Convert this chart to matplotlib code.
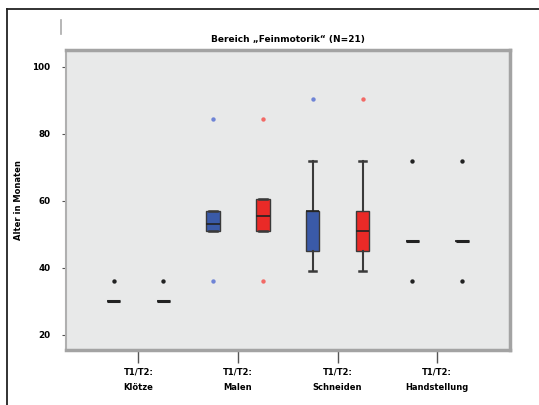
import matplotlib.pyplot as plt
from matplotlib.lines import Line2D

# Werte (Alter in Monaten)
categories = ["T1/T2:\nKlötze", "T1/T2:\nMalen", "T1/T2:\nSchneiden", "T1/T2:\nHandstellung"]

t1_q1 = [30, 51, 45, 48]
t1_med = [30, 53, 57, 48]
t1_q3 = [30, 57, 57, 48]
t1_lo = [30, 51, 39, 48]
t1_hi = [30, 57, 72, 48]
t1_fliers = [[36], [36, 84.5], [90.5], [36, 72]]

t2_q1 = [30, 51, 45, 48]
t2_med = [30, 55.5, 51, 48]
t2_q3 = [30, 60.5, 57, 48]
t2_lo = [30, 51, 39, 48]
t2_hi = [30, 60.5, 72, 48]
t2_fliers = [[36], [36, 84.5], [90.5], [36, 72]]

yticks = [20, 40, 60, 80, 100]

blue = "#3a5aa8"
red = "#ea2a27"
flier_cols_1 = ["#222222", "#6f84d6", "#6f84d6", "#222222"]
flier_cols_2 = ["#222222", "#f26a66", "#f26a66", "#222222"]


def make_stats(q1, med, q3, lo, hi):
    out = []
    for i in range(len(q1)):
        out.append(dict(q1=q1[i], med=med[i], q3=q3[i],
                        whislo=lo[i], whishi=hi[i], fliers=[]))
    return out


fig = plt.figure(figsize=(5.39, 4.05), dpi=100)
ax = fig.add_axes([0.122, 0.136, 0.824, 0.740])
ax.set_facecolor("#e8e9e9")

pos = [1, 2, 3, 4]
off = 0.25
stats1 = make_stats(t1_q1, t1_med, t1_q3, t1_lo, t1_hi)
stats2 = make_stats(t2_q1, t2_med, t2_q3, t2_lo, t2_hi)

for stats, shift, col in [(stats1, -off, blue), (stats2, off, red)]:
    ax.bxp(stats, positions=[p + shift for p in pos], widths=0.135,
           capwidths=0.075, patch_artist=True, showfliers=False,
           boxprops=dict(facecolor=col, edgecolor="#3a3a3a", linewidth=1.0),
           medianprops=dict(color="#222222", linewidth=1.2),
           whiskerprops=dict(color="#3a3a3a", linewidth=1.5),
           capprops=dict(color="#3a3a3a", linewidth=1.8))

# Boxen mit Hoehe 0 als schwarze Striche
for i in range(4):
    if t1_q1[i] == t1_q3[i]:
        ax.plot([pos[i] - off - 0.065, pos[i] - off + 0.065], [t1_med[i]] * 2,
                color="#222222", linewidth=2.2, solid_capstyle="butt")
    if t2_q1[i] == t2_q3[i]:
        ax.plot([pos[i] + off - 0.065, pos[i] + off + 0.065], [t2_med[i]] * 2,
                color="#222222", linewidth=2.2, solid_capstyle="butt")

for i in range(4):
    ax.scatter([pos[i] - off] * len(t1_fliers[i]), t1_fliers[i], s=10,
               color=flier_cols_1[i], zorder=5, marker="o", linewidths=0)
    ax.scatter([pos[i] + off] * len(t2_fliers[i]), t2_fliers[i], s=10,
               color=flier_cols_2[i], zorder=5, marker="o", linewidths=0)

ax.set_xlim(0.27, 4.73)
ax.set_ylim(15.5, 105)
ax.set_yticks(yticks)
ax.set_yticklabels([str(v) for v in yticks], fontsize=6.3, fontweight="bold")
ax.set_xticks(pos)
ax.set_xticklabels(categories, fontsize=6, fontweight="bold", linespacing=1.9)
ax.tick_params(axis="x", length=9, width=1.0, color="#555555", pad=4)
ax.tick_params(axis="y", length=3, width=0.8, color="#555555", pad=8)

for side in ["top", "right", "bottom"]:
    ax.spines[side].set_color("#a3a3a3")
    ax.spines[side].set_linewidth(2.5)
ax.spines["left"].set_color("#b0b0b0")
ax.spines["left"].set_linewidth(1.5)

ax.set_ylabel("Alter in Monaten", fontsize=6, fontweight="bold")
ax.yaxis.set_label_coords(-0.097, 0.5)
ax.set_title("Bereich „Feinmotorik“ (N=21)", fontsize=6.5, fontweight="bold", pad=6)

# Rahmen um das ganze Bild
fig.add_artist(Line2D([7 / 539, 7 / 539], [0, 1 - 9 / 405], color="#222222", linewidth=1.3))
fig.add_artist(Line2D([7 / 539, 1], [1 - 9 / 405, 1 - 9 / 405], color="#222222", linewidth=1.3))
fig.add_artist(Line2D([61 / 539, 61 / 539], [1 - 20 / 405, 1 - 34 / 405], color="#aaaaaa", linewidth=1.2))

fig.savefig("out.png", dpi=100)
